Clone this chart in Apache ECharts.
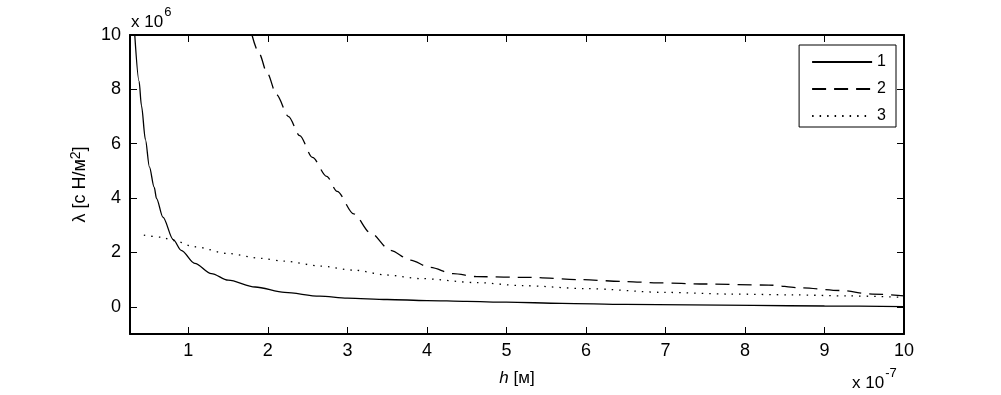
<!DOCTYPE html>
<html>
<head>
<meta charset="utf-8">
<script src="https://cdn.jsdelivr.net/npm/echarts@6/dist/echarts.min.js"></script>
<style>
  html, body { margin: 0; padding: 0; background: #fff; }
  #chart { width: 1001px; height: 395px; }
</style>
</head>
<body>
<div id="chart"></div>
<script>
// h in units of 1e-7 m, lambda in units of 1e6
const h1 = [0.326, 0.38, 0.41, 0.46, 0.51, 0.57, 0.60, 0.68, 0.81, 0.91, 1.08, 1.29, 1.5, 1.84, 2.21, 2.65, 3.0, 3.5, 4.0, 4.5, 5.0, 5.7, 6.5, 7.3, 8.1, 9.0, 10];
const y1 = [10, 8.3, 7.4, 6.15, 5.15, 4.4, 3.98, 3.3, 2.47, 2.08, 1.6, 1.22, 0.98, 0.73, 0.53, 0.39, 0.32, 0.27, 0.23, 0.20, 0.17, 0.13, 0.09, 0.07, 0.05, 0.03, 0.01];

const h2 = [1.80, 1.89, 1.99, 2.11, 2.26, 2.40, 2.56, 2.74, 2.87, 3.08, 3.29, 3.54, 3.79, 4.04, 4.33, 4.63, 5.3, 5.92, 6.5, 6.9, 7.5, 8.3, 8.7, 9.2, 9.6, 10];
const y2 = [10, 9.32, 8.6, 7.8, 7.0, 6.3, 5.5, 4.8, 4.25, 3.42, 2.72, 2.08, 1.72, 1.45, 1.22, 1.11, 1.08, 1.0, 0.93, 0.88, 0.84, 0.80, 0.70, 0.60, 0.47, 0.40];

const h3 = [0.44, 0.66, 0.81, 1.08, 1.5, 1.92, 2.21, 2.66, 3.08, 3.5, 3.91, 4.63, 5.2, 6.0, 7.0, 7.8, 8.6, 9.3, 10];
const y3 = [2.64, 2.56, 2.44, 2.21, 1.96, 1.78, 1.68, 1.50, 1.35, 1.17, 1.04, 0.89, 0.78, 0.67, 0.53, 0.47, 0.44, 0.40, 0.35];

const seriesNames = ['1', '2', '3'];

const xMin = 0.266;
const xMax = 10;
const yMin = -1;
const yMax = 10;

const font = 'Liberation Sans, Arial, sans-serif';

const pairs = (xs, ys) => xs.map((x, i) => [x, ys[i]]);

const chart = echarts.init(document.getElementById('chart'));

const baseX = {
  type: 'value',
  min: xMin,
  max: xMax,
  minInterval: 1,
  maxInterval: 1,
  splitLine: { show: false },
  axisLine: { show: true, onZero: false, lineStyle: { color: '#000', width: 2 } },
  axisTick: { show: true, inside: true, length: 7, lineStyle: { color: '#000', width: 1 } }
};

const baseY = {
  type: 'value',
  min: yMin,
  max: yMax,
  minInterval: 2,
  maxInterval: 2,
  splitLine: { show: false },
  axisLine: { show: true, onZero: false, lineStyle: { color: '#000', width: 2 } },
  axisTick: { show: true, inside: true, length: 7, lineStyle: { color: '#000', width: 1 } }
};

// "x 10^n" multiplier labels
const expRich = {
  a: { fontSize: 17, fontFamily: font, fill: '#000', padding: [9, 0, 0, 0] },
  s: { fontSize: 13, fontFamily: font, fill: '#000', padding: [0, 0, 11, 1] }
};

const option = {
  backgroundColor: '#fff',
  animation: false,
  grid: { left: 130, right: 97, top: 35, bottom: 61 },
  legend: {
    data: seriesNames,
    orient: 'vertical',
    right: 105,
    top: 45,
    itemWidth: 60,
    itemHeight: 14,
    itemGap: 11,
    padding: [9, 10, 3, 12],
    backgroundColor: '#fff',
    borderColor: '#000',
    borderWidth: 1,
    borderRadius: 0,
    selectedMode: false,
    itemStyle: { opacity: 0 },
    textStyle: { color: '#000', fontSize: 16, fontFamily: font }
  },
  xAxis: [
    Object.assign({}, baseX, {
      position: 'bottom',
      name: '{i|h} [м]',
      nameLocation: 'middle',
      nameGap: 36,
      nameTextStyle: {
        color: '#000', fontSize: 17, fontFamily: font,
        rich: { i: { fontStyle: 'italic', fontSize: 17, fontFamily: font, color: '#000' } }
      },
      axisLabel: {
        color: '#000', fontSize: 18, fontFamily: font, margin: 8,
        formatter: v => (Math.abs(v - Math.round(v)) < 1e-9 ? String(Math.round(v)) : '')
      }
    }),
    Object.assign({}, baseX, {
      position: 'top',
      axisLabel: { show: false }
    })
  ],
  yAxis: [
    Object.assign({}, baseY, {
      position: 'left',
      name: '{a|λ [с Н/м}{s|2}{a|]}',
      nameLocation: 'middle',
      nameGap: 39,
      nameTextStyle: {
        color: '#000', fontSize: 18, fontFamily: font,
        rich: {
          a: { fontSize: 18, fontFamily: font, color: '#000' },
          s: { fontSize: 14, fontFamily: font, color: '#000', verticalAlign: 'top', padding: [0, 0, 8, 0] }
        }
      },
      axisLabel: {
        color: '#000', fontSize: 18, fontFamily: font, margin: 9,
        formatter: v => (v >= 0 && Math.abs(v % 2) < 1e-9 ? String(v) : '')
      }
    }),
    Object.assign({}, baseY, {
      position: 'right',
      axisLabel: { show: false }
    })
  ],
  graphic: [
    {
      type: 'text', left: 131, top: 6,
      style: { text: '{a|x 10}{s|6}', rich: expRich }
    },
    {
      type: 'text', left: 852, top: 367,
      style: { text: '{a|x 10}{s|-7}', rich: expRich }
    }
  ],
  series: [
    {
      name: seriesNames[0], type: 'line', data: pairs(h1, y1),
      showSymbol: false, symbol: 'none', smooth: 0.3, smoothMonotone: 'x',
      lineStyle: { color: '#000', width: 1.3, type: 'solid' }
    },
    {
      name: seriesNames[1], type: 'line', data: pairs(h2, y2),
      showSymbol: false, symbol: 'none', smooth: 0.3, smoothMonotone: 'x',
      lineStyle: { color: '#000', width: 1.3, type: [14, 8] }
    },
    {
      name: seriesNames[2], type: 'line', data: pairs(h3, y3),
      showSymbol: false, symbol: 'none', smooth: 0.3, smoothMonotone: 'x',
      lineStyle: { color: '#000', width: 1.3, type: [1.5, 6] }
    }
  ]
};

chart.setOption(option);
</script>
</body>
</html>
